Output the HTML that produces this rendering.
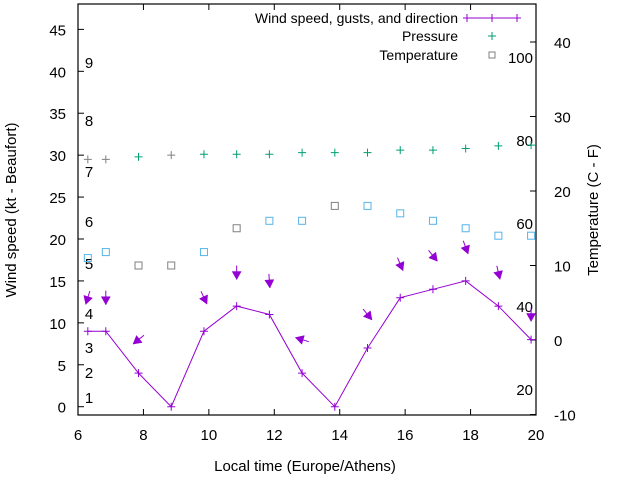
<!DOCTYPE html>
<html><head><meta charset="utf-8"><style>
body{margin:0;background:#fff}
svg{display:block;font-family:"Liberation Sans",Arial,sans-serif}
</style></head><body>
<svg id="chart" width="640" height="480" viewBox="0 0 640 480">
<g id="grid"></g>
<g id="marks"></g>
</svg>
<script>
const times=[6.3,6.85,7.85,8.85,9.85,10.85,11.85,12.85,13.85,14.85,15.85,16.85,17.85,18.85,19.85];
const wind=[9,9,4,0,9,12,11,4,0,7,13,14,15,12,8];
const gust=[13,13,8,null,13,16,15,8,null,11,17,18,19,16,11];
const dir=[17,0,51,null,335,0,356,107,null,321,337,321,340,347,0];
const pressure=[29.5,29.5,29.8,30,30.1,30.1,30.1,30.3,30.3,30.3,30.6,30.6,30.8,31.1,31.2];
const pressureGray=[1,1,0,1,0,0,0,0,0,0,0,0,0,0,0];
const temperature=[11,11.8,10,10,11.8,15,16,16,18,18,17,16,15,14,14];
const temperatureGray=[0,0,1,1,0,1,0,0,1,0,0,0,0,0,0];
const xTicks=[6,8,10,12,14,16,18,20];
const yTicks=[0,5,10,15,20,25,30,35,40,45];
const y2Ticks=[-10,0,10,20,30,40];
const beaufort=[["1",397],["2",372],["3",347],["4",313],["5",263],["6",221],["7",171],["8",120],["9",62]];
const pressLabels=[["20",389],["40",306],["60",223],["80",140],["100",57]];

const L=78,R=536,T=4,B=415;
const X=v=>L+(v-6)/14*(R-L);
const Y=v=>406.7-v*8.385;
const Y2=v=>340-v*7.45;
const NS="http://www.w3.org/2000/svg";
const svg=document.getElementById('chart');
const G=document.getElementById('grid'),M=document.getElementById('marks');
function el(t,a,p){const e=document.createElementNS(NS,t);for(const k in a)e.setAttribute(k,a[k]);(p||G).appendChild(e);return e;}
function txt(s,x,y,anchor,size,p){const e=el('text',{x:x,y:y,'text-anchor':anchor||'middle','font-size':size||15,fill:'#000'},p);e.textContent=s;return e;}

let f=el('rect',{x:L,y:T,width:R-L,height:B-T,fill:'none',stroke:'#000','stroke-width':1.2});


xTicks.forEach(v=>{const x=X(v);
 el('line',{x1:x,y1:B,x2:x,y2:B-6,stroke:'#000'});el('line',{x1:x,y1:T,x2:x,y2:T+6,stroke:'#000'});
 const t=txt(String(v),x,440);
 
 });
yTicks.forEach(v=>{const y=Y(v);
 el('line',{x1:L,y1:y,x2:L+6,y2:y,stroke:'#000'});
 const t=txt(String(v),66,y+6,'end');
 
 });
y2Ticks.forEach(v=>{const y=Y2(v);
 el('line',{x1:R,y1:y,x2:R-6,y2:y,stroke:'#000'});
 const t=txt(String(v),554,y+6,'start');
 
 });
beaufort.forEach(b=>{const t=txt(b[0],89,b[1]+6,'middle');
 
 });
pressLabels.forEach(b=>{const t=txt(b[0],533,b[1]+6,'end');
 
 });
let t1=txt('Local time (Europe/Athens)',305,471);


let t2=txt('Wind speed (kt - Beaufort)',0,0);t2.setAttribute('transform','translate(16,210) rotate(-90)');


let t3=txt('Temperature (C - F)',0,0);t3.setAttribute('transform','translate(598,210) rotate(-90)');



const P='#9400d3',GR='#009e73',BL='#56b4e9',GY='#808080';
let lg=el('g',{});
txt('Wind speed, gusts, and direction',458,23,'end',14,lg);
el('line',{x1:467,y1:18,x2:517,y2:18,stroke:P},lg);
[467,517,492].forEach(x=>el('path',{d:`M${x-4} 18h8M${x} 14v8`,stroke:P},lg));
txt('Pressure',458,41,'end',14,lg);
el('path',{d:'M488 36h8M492 32v8',stroke:GR},lg);
txt('Temperature',458,60,'end',14,lg);
el('rect',{x:489,y:52,width:6,height:6,fill:'none',stroke:GY},lg);

let pl=el('polyline',{points:times.map((t,i)=>X(t)+','+Y(wind[i])).join(' '),fill:'none',stroke:P,'stroke-width':1},M);


times.forEach((t,i)=>{const x=X(t),y=Y(wind[i]);
 const p=el('path',{d:`M${x-4} ${y}h8M${x} ${y-4}v8`,stroke:P},M);
 
 
 const py=Y(pressure[i]);
 const pp=el('path',{d:`M${x-4} ${py}h8M${x} ${py-4}v8`,stroke:pressureGray[i]?GY:GR},M);
 
 
 const ty=Y2(temperature[i]);
 const tp=el('rect',{x:x-3.5,y:ty-3.5,width:7,height:7,fill:'none',stroke:temperatureGray[i]?GY:BL},M);
 
 
 if(gust[i]!==null){
  const th=(dir[i]+180)*Math.PI/180,dx=Math.sin(th),dy=-Math.cos(th);
  const cy=Y(gust[i]),len=14;
  const x1=x-dx*len/2,y1=cy-dy*len/2,x2=x+dx*len/2,y2=cy+dy*len/2;
  const px=-dy,py2=dx;
  const a=el('g',{},M);
  
  
  el('line',{x1:x1,y1:y1,x2:x2,y2:y2,stroke:P,'stroke-width':1},a);
  const bx=x2-dx*8,by=y2-dy*8;
  el('polygon',{points:`${x2},${y2} ${bx+px*4.5},${by+py2*4.5} ${bx-px*4.5},${by-py2*4.5}`,fill:P,stroke:P,'stroke-width':0.5},a);
 }
});
</script>
</body></html>
